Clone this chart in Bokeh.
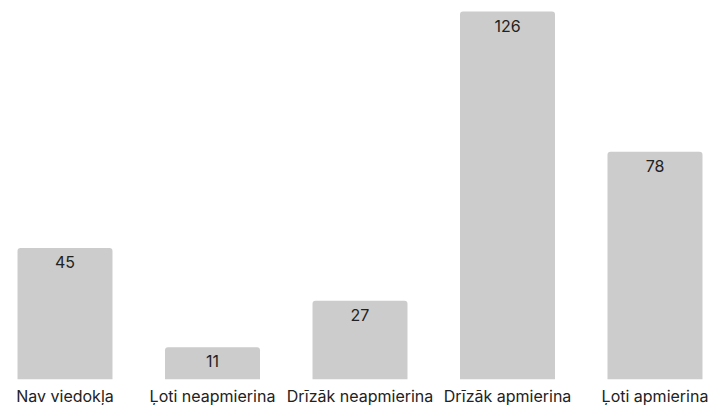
from bokeh.plotting import figure
from bokeh.models import ColumnDataSource, FixedTicker
from bokeh.core.properties import value
from bokeh.embed import file_html
from bokeh.resources import INLINE

categories = ["Nav viedokļa", "Ļoti neapmierina", "Drīzāk neapmierina", "Drīzāk apmierina", "Ļoti apmierina"]
counts = [45, 11, 27, 126, 78]

xs = list(range(len(categories)))
src = ColumnDataSource(dict(x=xs, top=counts, label=[str(c) for c in counts]))

p = figure(width=710, height=408, output_backend="svg", toolbar_location=None,
           x_range=(-0.4373, 4.3763), y_range=(0, 129.77), min_border=0,
           min_border_left=0, min_border_right=0, min_border_top=0, min_border_bottom=0)
p.outline_line_color = None
p.grid.visible = False
p.yaxis.visible = False

p.vbar(x="x", top="top", bottom=0, width=0.644, source=src, fill_color="#cccccc",
       line_color=None, border_radius=[3, 3, 0, 0])
p.text(x="x", y="top", text="label", source=src, text_align="center", text_baseline="top",
       y_offset=8, text_font=value("Inter"), text_font_size="16px", text_color="#222222")

ax = p.xaxis[0]
ax.ticker = FixedTicker(ticks=xs)
ax.major_label_overrides = {i: c for i, c in enumerate(categories)}
ax.axis_line_color = None
ax.major_tick_line_color = None
ax.minor_tick_line_color = None
ax.major_tick_out = 0
ax.major_tick_in = 0
ax.major_label_standoff = 6
ax.major_label_text_font = "Inter"
ax.major_label_text_font_size = "16px"
ax.major_label_text_color = "#222222"

open("out.html", "w").write(file_html(p, INLINE))
